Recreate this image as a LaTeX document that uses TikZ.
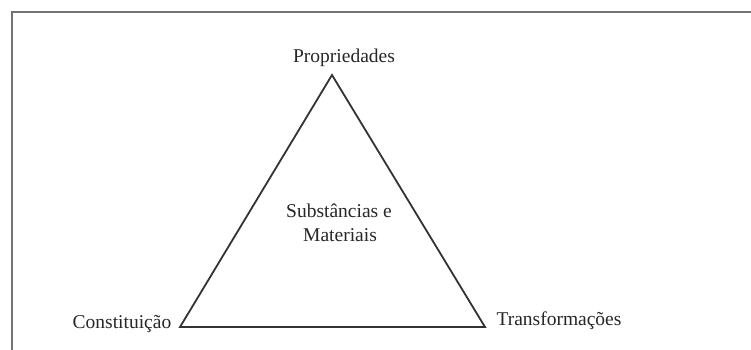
\documentclass[tikz,border=0pt]{standalone}
\usepackage{fontspec}
\setmainfont{Liberation Serif}
\begin{document}
\begin{tikzpicture}[x=1pt,y=-1pt,
  lbl/.style={anchor=base,inner sep=0pt,text=black!85,font=\fontsize{19.5}{24}\selectfont},
  frameline/.style={draw=black!55,line width=2pt},
  edge/.style={draw=black!80,line width=1.8pt,line join=miter}]
\useasboundingbox (0,0) rectangle (751,350);
\draw[frameline] (12,352) -- (12,12) -- (753,12);
\coordinate (A) at (332,75);
\coordinate (B) at (180,327);
\coordinate (C) at (485,327);
\draw[edge] (A) -- (B) -- (C) -- cycle;
\node[lbl] (prop) at (344,63) {Propriedades};
\node[lbl] (const) at (122,328) {Constituição};
\node[lbl] (trans) at (559,325) {Transformações};
\node[lbl] (subs) at (339,217) {Substâncias e};
\node[lbl] (mat) at (340,241) {Materiais};
\end{tikzpicture}
\end{document}
